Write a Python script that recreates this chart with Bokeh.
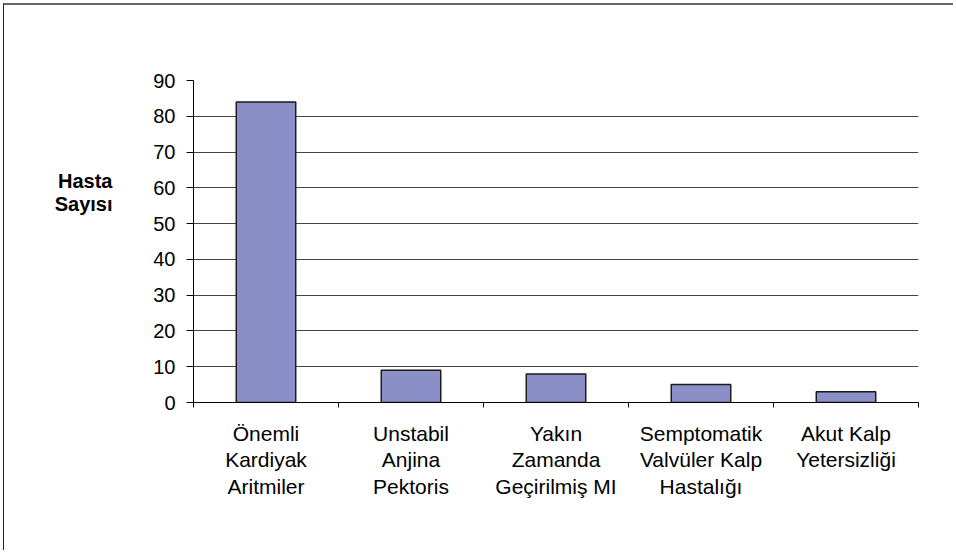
from bokeh.plotting import figure
from bokeh.models import Range1d, FixedTicker, LinearAxis, ColumnDataSource
from bokeh.embed import file_html
from bokeh.resources import INLINE

categories = ["Önemli\nKardiyak\nAritmiler", "Unstabil\nAnjina\nPektoris",
              "Yakın\nZamanda\nGeçirilmiş MI", "Semptomatik\nValvüler Kalp\nHastalığı",
              "Akut Kalp\nYetersizliği"]
values = [84, 9, 8, 5, 3]
y_ticks = [0, 10, 20, 30, 40, 50, 60, 70, 80, 90]
y_title = "Hasta\nSayısı"
y_title_pos = 58.8

n = len(categories)
centers = [i + 0.5 for i in range(n)]
bounds = [i for i in range(n + 1)]

FONT = "Liberation Sans"

p = figure(width=950, height=547, output_backend="svg", toolbar_location=None,
           x_range=Range1d(0, n), y_range=Range1d(0, 90),
           min_border_left=189, min_border_top=75, min_border_right=36, min_border_bottom=150)
p.styles = {"margin-left": "3px", "margin-top": "3px",
            "border-left": "1px solid #222", "border-top": "2px solid #666"}
p.outline_line_color = None
p.background_fill_color = "white"
p.border_fill_color = "white"

src = ColumnDataSource(dict(x=centers, top=values))
p.vbar(x="x", top="top", bottom=0, width=0.41, source=src,
       fill_color="#8B8FC7", line_color="#1a1a1a", line_width=1.5)

# y axis
p.yaxis.ticker = FixedTicker(ticks=y_ticks, minor_ticks=[])
p.yaxis.axis_line_color = "black"
p.yaxis.major_tick_line_color = "black"
p.yaxis.major_tick_out = 7
p.yaxis.major_tick_in = 0
p.yaxis.minor_tick_line_color = None
p.yaxis.major_label_standoff = 11
p.yaxis.major_label_text_font = FONT
p.yaxis.major_label_text_font_size = "20px"
p.yaxis.major_label_text_color = "black"

# y title as horizontal label via an extra axis
title_axis = LinearAxis(ticker=FixedTicker(ticks=[y_title_pos], minor_ticks=[]),
                        major_label_overrides={y_title_pos: y_title})
title_axis.axis_line_color = None
title_axis.major_tick_line_color = None
title_axis.minor_tick_line_color = None
title_axis.major_tick_out = 0
title_axis.major_tick_in = 0
title_axis.major_label_standoff = 38
title_axis.major_label_text_font = FONT
title_axis.major_label_text_font_size = "20px"
title_axis.major_label_text_font_style = "bold"
title_axis.major_label_text_color = "black"
title_axis.major_label_text_line_height = 1.05
p.add_layout(title_axis, "left")

# x axis
p.xaxis.ticker = FixedTicker(ticks=centers, minor_ticks=bounds)
p.xaxis.major_label_overrides = {c: lab for c, lab in zip(centers, categories)}
p.xaxis.axis_line_color = "black"
p.xaxis.major_tick_line_color = None
p.xaxis.minor_tick_line_color = "black"
p.xaxis.minor_tick_out = 5
p.xaxis.minor_tick_in = 0
p.xaxis.major_label_standoff = 13
p.xaxis.major_label_text_font = FONT
p.xaxis.major_label_text_font_size = "21px"
p.xaxis.major_label_text_color = "black"
p.xaxis.major_label_text_align = "center"
p.xaxis.major_label_text_line_height = 1.16

p.xgrid.grid_line_color = None
p.ygrid.grid_line_color = "#444444"
p.ygrid.grid_line_width = 1

open("out.html", "w").write(file_html(p, INLINE))
